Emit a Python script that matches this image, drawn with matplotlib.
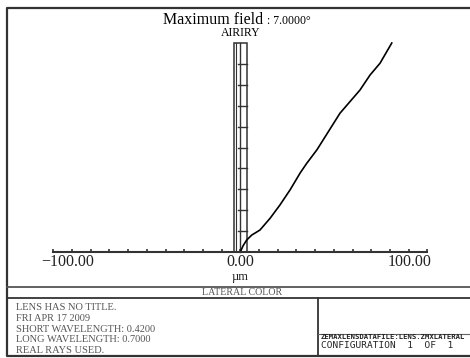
import matplotlib
matplotlib.use('Agg')
import matplotlib.pyplot as plt
from matplotlib.patches import Rectangle
import numpy as np

# lateral color curve (field fraction vs micrometres)
field = [0, 0.03, 0.057, 0.081, 0.105, 0.161, 0.225, 0.297, 0.378, 0.424,
         0.488, 0.512, 0.664, 0.775, 0.847, 0.903, 1.0]
lat_color = [0, 1.5, 3.4, 6.1, 10.5, 15.9, 21.2, 26.6, 32.0, 35.5,
             40.9, 42.6, 53.3, 64.0, 69.4, 74.7, 81.0]
airy_radius = 3.5
airy_ticks = [0.1, 0.2, 0.3, 0.4, 0.5, 0.6, 0.7, 0.8, 0.9]
x_ticks = list(range(-100, 101, 10))
x_labels = ['\u2212100.00', '0.00', '100.00']
info_lines = ['LENS HAS NO TITLE.', 'FRI APR 17 2009', 'SHORT WAVELENGTH: 0.4200',
              'LONG WAVELENGTH: 0.7000', 'REAL RAYS USED.']

W, H = 470, 358
serif = 'Liberation Serif'
fig = plt.figure(figsize=(W / 100, H / 100), dpi=100)

# frame axes in pixel units for the border / text block
fax = fig.add_axes([0, 0, 1, 1])
fax.set_xlim(0, W)
fax.set_ylim(H, 0)
fax.axis('off')

lc = '#333333'
# outer border (right side runs off the picture)
fax.plot([472, 7, 7, 472], [8, 8, 356, 356], color=lc, lw=1.6)
fax.plot([7, 472], [286.7, 286.7], color='#555555', lw=1.3)
fax.plot([7, 472], [298.3, 298.3], color=lc, lw=1.3)
fax.plot([318.3, 318.3], [298.3, 356], color=lc, lw=1.3)
fax.plot([318.3, 472], [333.5, 333.5], color='#666666', lw=0.8)

fax.text(263, 20, 'Maximum field', family=serif, fontsize=11.5, ha='right', va='center')
fax.text(264, 20.5, ' : 7.0000\u00b0', family=serif, fontsize=8.5, ha='left', va='center')
fax.text(240.5, 33, 'AIRIRY', family=serif, fontsize=8.5, ha='center', va='center')

fax.text(41.5, 262, x_labels[0], family=serif, fontsize=11.5, ha='left', va='center', color='#222222')
fax.text(240.5, 262, x_labels[1], family=serif, fontsize=11.5, ha='center', va='center', color='#222222')
fax.text(432, 262, x_labels[2], family=serif, fontsize=11.5, ha='right', va='center', color='#222222')
fax.text(240.5, 277, '\u00b5m', family=serif, fontsize=9, ha='center', va='center', color='#222222')
fax.text(242, 292.5, 'LATERAL COLOR', family=serif, fontsize=7.2, ha='center', va='center', color='#555555')

for i, line in enumerate(info_lines):
    fax.text(16, 307.3 + i * 10.85, line, family=serif, fontsize=7.5,
             ha='left', va='center', color='#555555')

# dense header in the right box, then configuration line
fax.text(320.7, 337.2, 'ZEMAXLENSDATAFILE:LENS.ZMXLATERAL', family='DejaVu Sans Mono',
         fontsize=5.2, fontweight='bold', ha='left', va='center', color='#222222')
fax.text(320.7, 345.6, 'CONFIGURATION  1  OF  1', family='DejaVu Sans Mono', fontsize=6.8,
         ha='left', va='center', color='#222222')

# data axes
left, right = 53.3, 427.3
top, bottom = 43, 252
ax = fig.add_axes([left / W, (H - bottom) / H, (right - left) / W, (bottom - top) / H])
ax.patch.set_alpha(0)
ax.set_xlim(-100, 100)
ax.set_ylim(0, 1)
for s in ['top', 'left', 'right']:
    ax.spines[s].set_visible(False)
ax.spines['bottom'].set_linewidth(1.5)
ax.spines['bottom'].set_color(lc)
ax.set_yticks([])
ax.set_xticks(x_ticks)
ax.set_xticklabels([])
ax.tick_params(axis='x', direction='in', length=2.5, width=1.2, color=lc)

# airy disk bar
ax.add_patch(Rectangle((-airy_radius, 0), 2 * airy_radius, 1, fill=False,
                       edgecolor=lc, lw=1.1, clip_on=False))
ax.plot([-2.4, -2.4], [0, 1], color=lc, lw=0.8, clip_on=False)
ax.plot([0, 0], [0, 1], color=lc, lw=1.0, clip_on=False)
for t in airy_ticks:
    ax.plot([-1.3, airy_radius], [t, t], color=lc, lw=1.0)

ax.plot(lat_color, field, color='black', lw=1.2, clip_on=False)

fig.savefig('out.png', dpi=100)
